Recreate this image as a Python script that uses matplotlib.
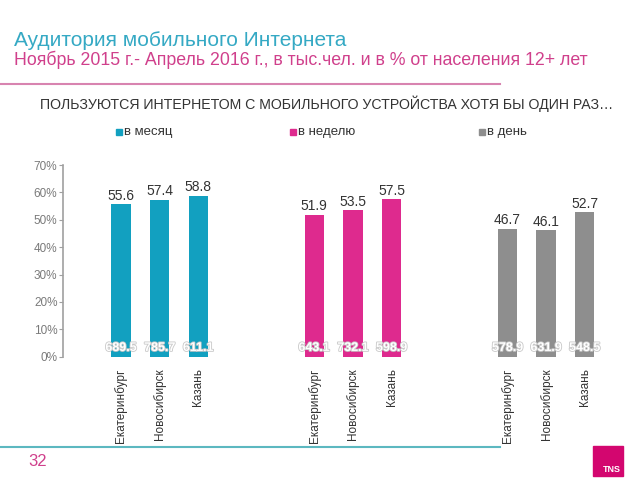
import numpy as np
import matplotlib
matplotlib.use("Agg")
import matplotlib.pyplot as plt
import matplotlib.patheffects as pe
from matplotlib.patches import Rectangle
from matplotlib.lines import Line2D

plt.rcParams['font.family'] = ['Liberation Sans', 'DejaVu Sans']

# данные
cities = ["Екатеринбург", "Новосибирск", "Казань"]
groups = ["в месяц", "в неделю", "в день"]
pct_month = [55.6, 57.4, 58.8]
pct_week = [51.9, 53.5, 57.5]
pct_day = [46.7, 46.1, 52.7]
thous_month = ["689.5", "785.7", "611.1"]
thous_week = ["643.1", "732.1", "598.9"]
thous_day = ["578.9", "631.9", "548.5"]
yticks = [0, 10, 20, 30, 40, 50, 60, 70]

colors = ["#12a0c0", "#de2a8e", "#8e8e8e"]
teal_title = "#35a9c4"
pink_title = "#d0408c"

fig = plt.figure(figsize=(6.4, 4.8), dpi=100)

# заголовки
fig.text(14/640, 1 - 40/480, "Аудитория мобильного Интернета", fontsize=15,
         color=teal_title, va="center", ha="left")
fig.text(14/640, 1 - 60/480,
         "Ноябрь 2015 г.- Апрель 2016 г., в тыс.чел. и в % от населения 12+ лет",
         fontsize=12.8, color=pink_title, va="center", ha="left")
fig.add_artist(Line2D([0, 500/640], [1 - 84/480] * 2, color="#d884b0", lw=1.5))
fig.text(40/640, 1 - 104/480,
         "ПОЛЬЗУЮТСЯ ИНТЕРНЕТОМ С МОБИЛЬНОГО УСТРОЙСТВА ХОТЯ БЫ ОДИН РАЗ…",
         fontsize=10.2, color="#333333", va="center", ha="left")

# легенда
leg_x = [116, 290, 479]
for lx, name, c in zip(leg_x, groups, colors):
    fig.add_artist(Rectangle((lx/640, 1 - 135/480), 6/640, 6/480, color=c))
    fig.text((lx + 8)/640, 1 - 132/480, name, fontsize=9.5, color="#333333",
             va="center", ha="left")

# нижняя линия, номер страницы, логотип
fig.add_artist(Line2D([0, 500/640], [1 - 447/480] * 2, color="#5cb8c0", lw=1.5))
fig.text(28/640, 1 - 462/480, "32", fontsize=12, color=pink_title, va="center")
fig.add_artist(Rectangle((593/640, 1 - 476/480), 30/640, 30/480, color="#d3066f"))
fig.text(621/640, 1 - 470/480, "TNS", fontsize=6.5, color="white",
         fontweight="bold", ha="right", va="center")

# график
ax = fig.add_axes([63/640, 1 - 356.7/480, (625 - 63)/640, (356.7 - 165)/480])
unit = 38.65
x0 = -(121 - 63) / unit
ax.set_xlim(x0, x0 + (625 - 63) / unit)
ax.set_ylim(0, 70)

all_pct = [pct_month, pct_week, pct_day]
all_th = [thous_month, thous_week, thous_day]
for g in range(3):
    xs = np.arange(3) + g * 5
    ax.bar(xs, all_pct[g], width=0.5, color=colors[g])
    for x, v, t, city in zip(xs, all_pct[g], all_th[g], cities):
        ax.text(x, v + 0.5, f"{v:.1f}", ha="center", va="bottom", fontsize=10,
                color="#333333")
        ax.text(x, 3.2, t, ha="center", va="center", fontsize=9,
                color="white", fontweight="bold",
                path_effects=[pe.withStroke(linewidth=1.2, foreground="#c8c8c8")])
        ax.text(x, -4.3, city, ha="center", va="top", rotation=90, fontsize=8.5,
                color="#333333", clip_on=False)

ax.set_yticks(yticks)
ax.set_yticklabels([f"{y}%" for y in yticks], fontsize=8.5, color="#7a7a7a")
ax.set_xticks([])
for s in ["top", "right", "bottom"]:
    ax.spines[s].set_visible(False)
ax.spines["left"].set_color("#a0a0a0")
ax.spines["left"].set_linewidth(1.2)
ax.tick_params(axis="y", length=3, color="#a0a0a0", pad=1)
ax.patch.set_alpha(0)

fig.savefig("out.png", dpi=100)
